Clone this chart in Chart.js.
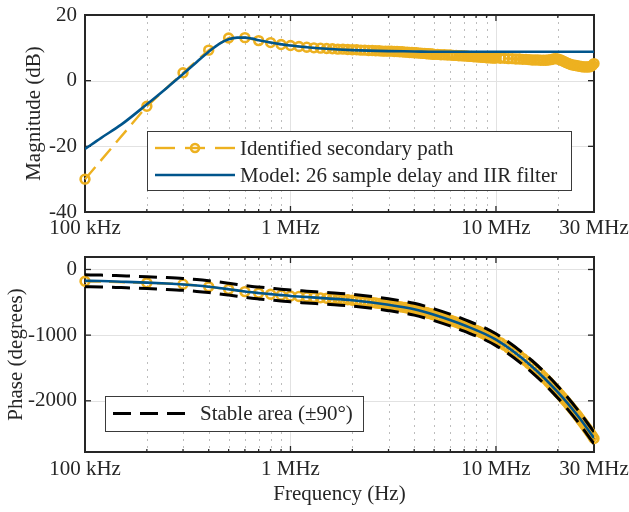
<!DOCTYPE html>
<html>
<head>
<meta charset="utf-8">
<script src="https://cdn.jsdelivr.net/npm/chart.js@4.4.0/dist/chart.umd.min.js"></script>
<style>
  body { margin: 0; background: #fff; }
  #wrap { position: relative; width: 629px; height: 512px; }
  canvas { position: absolute; left: 0; }
</style>
</head>
<body>
<div id="wrap">
  <canvas id="mag" width="629" height="250" style="top:0"></canvas>
  <canvas id="phase" width="629" height="262" style="top:250px"></canvas>
</div>
<script>
// measured (identified) frequency response, frequency in MHz
var freqMeas = [
  0.1, 0.2, 0.3, 0.4, 0.5, 0.6, 0.7, 0.8, 0.9, 1.0,
  1.1, 1.2, 1.3, 1.4, 1.5, 1.6, 1.7, 1.8, 1.9, 2.0,
  2.1, 2.2, 2.3, 2.4, 2.5, 2.6, 2.7, 2.8, 2.9, 3.0,
  3.1, 3.2, 3.3, 3.4, 3.5, 3.6, 3.7, 3.8, 3.9, 4.0,
  4.1, 4.2, 4.3, 4.4, 4.5, 4.6, 4.7, 4.8, 4.9, 5.0,
  5.2, 5.4, 5.6, 5.8, 6.0, 6.2, 6.4, 6.6, 6.8, 7.0,
  7.2, 7.4, 7.6, 7.8, 8.0, 8.2, 8.4, 8.6, 8.8, 9.0,
  9.2, 9.4, 9.6, 9.8, 10,
  10.5, 11, 11.5, 12, 12.5, 13, 13.5, 14, 14.5, 15,
  15.5, 16, 16.5, 17, 17.5, 18, 18.5, 19, 19.5, 20,
  20.5, 21, 21.5, 22, 22.5, 23, 23.5, 24, 24.5, 25,
  25.5, 26, 26.5, 27, 27.5, 28, 28.5, 29, 29.5, 30
];
var magMeas = [
  -30.0, -7.8, 2.4, 9.3, 13.0, 13.1, 12.2, 11.6, 11.0, 10.7,
  10.4, 10.2, 10.0, 9.9, 9.8, 9.7, 9.6, 9.6, 9.5, 9.4,
  9.4, 9.3, 9.3, 9.2, 9.2, 9.1, 9.1, 9.0, 9.0, 9.0,
  9.0, 8.9, 8.9, 8.8, 8.8, 8.7, 8.7, 8.6, 8.6, 8.5,
  8.5, 8.4, 8.4, 8.3, 8.3, 8.2, 8.2, 8.1, 8.1, 8.0,
  8.0, 7.9, 7.9, 7.8, 7.8, 7.7, 7.7, 7.6, 7.6, 7.5,
  7.5, 7.4, 7.4, 7.3, 7.3, 7.2, 7.2, 7.1, 7.1, 7.0,
  7.0, 7.0, 6.9, 6.9, 6.9,
  6.8, 6.8, 6.7, 6.7, 6.6, 6.6, 6.5, 6.5, 6.4, 6.3,
  6.3, 6.3, 6.2, 6.2, 6.2, 6.3, 6.4, 6.6, 6.7, 6.6,
  6.4, 6.1, 5.8, 5.5, 5.2, 5.0, 4.8, 4.7, 4.6, 4.5,
  4.4, 4.3, 4.2, 4.2, 4.2, 4.2, 4.2, 4.4, 4.7, 5.2
];
var phaseMeas = [
  -179, -203, -224, -263, -303, -337, -360, -377, -392, -404,
  -411, -418, -425, -432, -438, -444, -450, -456, -462, -468,
  -475, -482, -489, -496, -503, -510, -517, -524, -531, -538,
  -545, -552, -559, -566, -573, -580, -587, -594, -601, -608,
  -616, -624, -632, -641, -649, -658, -666, -675, -683, -692,
  -708, -724, -740, -756, -772, -788, -804, -820, -836, -852,
  -867, -882, -897, -912, -927, -942, -957, -972, -987, -1002,
  -1017, -1032, -1046, -1060, -1074,
  -1114, -1154, -1194, -1234, -1274, -1314, -1354, -1394, -1434, -1474,
  -1514, -1554, -1594, -1634, -1673, -1712, -1751, -1790, -1829, -1868,
  -1905, -1942, -1979, -2016, -2052, -2088, -2124, -2160, -2195, -2230,
  -2265, -2300, -2335, -2370, -2404, -2438, -2472, -2506, -2540, -2574
];

// model: 26 sample delay and IIR filter
var freqModel = [0.1, 0.12, 0.15, 0.2, 0.25, 0.3, 0.35, 0.4, 0.45, 0.5, 0.55, 0.6, 0.65, 0.7, 0.8, 0.9,
  1, 1.2, 1.5, 2, 3, 4, 5, 7, 10, 15, 20, 25, 30];
var magModel = [-20.8, -17.4, -13.4, -7.2, -2.2, 2.0, 5.7, 8.8, 11.2, 12.6, 13.1, 13.1, 12.8, 12.3, 11.6, 11.1,
  10.7, 10.2, 9.7, 9.3, 9.0, 8.9, 8.8, 8.8, 8.8, 8.8, 8.8, 8.8, 8.8];
var phaseModel = [-172, -176, -186, -200, -214, -228, -244, -262, -281, -300, -318, -335, -348, -358, -375, -390,
  -403, -420, -440, -468, -537, -605, -690, -850, -1070, -1480, -1868, -2228, -2565];
var stableMargin = 90; // degrees either side of the model

var xTicks = [0.1, 1, 10, 30];
var xTickLabels = ['100 kHz', '1 MHz', '10 MHz', '30 MHz'];
var xMinor = [0.2, 0.3, 0.4, 0.5, 0.6, 0.7, 0.8, 0.9, 2, 3, 4, 5, 6, 7, 8, 9, 20];
var magTicks = [-40, -20, 0, 20];
var phaseTicks = [-2000, -1000, 0];

var ink = '#262626';
var yellow = '#EDB120';
var blue = '#00558C';
var serif = "'Liberation Serif', 'Times New Roman', serif";

Chart.defaults.font.family = serif;
Chart.defaults.font.size = 21;
Chart.defaults.color = ink;

function pts(xs, ys) {
  return xs.map(function (f, i) { return { x: f, y: ys[i] }; });
}

function seg(c, x0, y0, x1, y1) {
  c.beginPath(); c.moveTo(x0, y0); c.lineTo(x1, y1); c.stroke();
}

function framePlugin(yTicks, legend) {
  return {
    id: 'frame',
    beforeDatasetsDraw: function (chart) {
      var c = chart.ctx, a = chart.chartArea, x = chart.scales.x, y = chart.scales.y;
      c.save();
      c.lineWidth = 1;
      c.strokeStyle = '#bdbdbd';
      c.setLineDash([2, 5]);
      xMinor.forEach(function (v) {
        var px = Math.round(x.getPixelForValue(v)) + 0.5;
        seg(c, px, a.top, px, a.bottom);
      });
      c.setLineDash([]);
      c.strokeStyle = '#e2e2e2';
      xTicks.forEach(function (v) {
        var px = Math.round(x.getPixelForValue(v)) + 0.5;
        seg(c, px, a.top, px, a.bottom);
      });
      yTicks.forEach(function (v) {
        var py = Math.round(y.getPixelForValue(v)) + 0.5;
        seg(c, a.left, py, a.right, py);
      });
      // box and inward ticks
      c.strokeStyle = ink;
      c.lineWidth = 1.3;
      yTicks.forEach(function (v) {
        var py = y.getPixelForValue(v);
        seg(c, a.left, py, a.left + 6, py);
        seg(c, a.right, py, a.right - 6, py);
      });
      xTicks.forEach(function (v) {
        var px = x.getPixelForValue(v);
        seg(c, px, a.bottom, px, a.bottom - 6);
        seg(c, px, a.top, px, a.top + 6);
      });
      xMinor.forEach(function (v) {
        var px = x.getPixelForValue(v);
        seg(c, px, a.bottom, px, a.bottom - 3);
        seg(c, px, a.top, px, a.top + 3);
      });
      c.lineWidth = 2;
      c.strokeRect(a.left, a.top, a.right - a.left, a.bottom - a.top);
      c.restore();
    },
    afterDraw: function (chart) {
      var c = chart.ctx, lg = legend;
      c.save();
      c.fillStyle = '#fff';
      c.fillRect(lg.x, lg.y, lg.w, lg.h);
      c.strokeStyle = '#3a3a3a';
      c.lineWidth = 1;
      c.strokeRect(lg.x + 0.5, lg.y + 0.5, lg.w, lg.h);
      lg.items.forEach(function (idx, k) {
        var ds = chart.data.datasets[idx];
        var yy = lg.y + lg.first + k * lg.step;
        var x0 = lg.x + 8, x1 = x0 + 80;
        c.strokeStyle = ds.borderColor;
        c.lineWidth = ds.borderWidth;
        if (ds.pointRadius) {
          seg(c, x0, yy, x0 + 20, yy);
          seg(c, x1 - 20, yy, x1, yy);
          seg(c, x0 + 30, yy, x1 - 30, yy);
          c.lineWidth = ds.pointBorderWidth;
          c.beginPath();
          c.arc((x0 + x1) / 2, yy, 4, 0, Math.PI * 2);
          c.stroke();
        } else {
          c.setLineDash(ds.borderDash || []);
          seg(c, x0, yy, x1, yy);
          c.setLineDash([]);
        }
        c.fillStyle = ink;
        c.font = '21px ' + serif;
        c.textBaseline = 'middle';
        c.fillText(ds.label, lg.x + lg.textX, yy + 1);
      });
      c.restore();
    }
  };
}

function xScale(height, pad, title) {
  return {
    type: 'logarithmic', min: 0.1, max: 30,
    afterBuildTicks: function (s) { s.ticks = xTicks.map(function (v) { return { value: v }; }); },
    afterFit: function (s) { s.height = height; s.paddingLeft = 0; s.paddingRight = 0; },
    grid: { display: false, drawTicks: false },
    border: { display: false },
    ticks: {
      autoSkip: false, maxRotation: 0, minRotation: 0, padding: pad,
      callback: function (v, i) { return xTickLabels[i]; }
    },
    title: title
  };
}

function yScale(min, max, ticks, text, titlePad) {
  return {
    min: min, max: max,
    afterBuildTicks: function (s) { s.ticks = ticks.map(function (v) { return { value: v }; }); },
    afterFit: function (s) { s.width = 85; s.paddingTop = 0; s.paddingBottom = 0; },
    grid: { display: false, drawTicks: false },
    border: { display: false },
    ticks: { padding: 8, callback: function (v) { return String(v); } },
    title: { display: true, text: text, padding: { top: titlePad, bottom: 0 } }
  };
}

var measStyle = {
  borderColor: yellow, borderWidth: 2.4, borderDash: [16, 8],
  pointRadius: 4.4, pointBorderWidth: 2.6, pointBorderColor: yellow,
  pointBackgroundColor: 'rgba(0,0,0,0)', pointHoverRadius: 4.4, clip: false, order: 2
};

new Chart(document.getElementById('mag'), {
  type: 'line',
  data: {
    datasets: [
      Object.assign({ label: 'Identified secondary path', data: pts(freqMeas, magMeas) }, measStyle),
      {
        label: 'Model: 26 sample delay and IIR filter', data: pts(freqModel, magModel),
        borderColor: blue, borderWidth: 2.6, pointRadius: 0, cubicInterpolationMode: 'monotone', order: 1
      }
    ]
  },
  options: {
    responsive: false, animation: false, devicePixelRatio: 1,
    layout: { padding: { top: 15, right: 35, left: 0, bottom: 0 } },
    plugins: { legend: { display: false }, tooltip: { enabled: false } },
    scales: {
      x: xScale(38, 4, { display: false }),
      y: yScale(-40, 20, magTicks, 'Magnitude (dB)', 22)
    }
  },
  plugins: [framePlugin(magTicks, { x: 147, y: 131, w: 424, h: 59, first: 17, step: 27, textX: 93, items: [0, 1] })]
});

new Chart(document.getElementById('phase'), {
  type: 'line',
  data: {
    datasets: [
      {
        label: 'Stable area (\u00b190\u00b0)', data: pts(freqModel, phaseModel.map(function (v) { return v + stableMargin; })),
        borderColor: '#000', borderWidth: 3, borderDash: [18, 9], pointRadius: 0, cubicInterpolationMode: 'monotone', order: 0
      },
      {
        label: 'Stable area (\u00b190\u00b0)', data: pts(freqModel, phaseModel.map(function (v) { return v - stableMargin; })),
        borderColor: '#000', borderWidth: 3, borderDash: [18, 9], pointRadius: 0, cubicInterpolationMode: 'monotone', order: 0
      },
      {
        label: 'Model: 26 sample delay and IIR filter', data: pts(freqModel, phaseModel),
        borderColor: blue, borderWidth: 2.6, pointRadius: 0, cubicInterpolationMode: 'monotone', order: 1
      },
      Object.assign({ label: 'Identified secondary path', data: pts(freqMeas, phaseMeas) }, measStyle)
    ]
  },
  options: {
    responsive: false, animation: false, devicePixelRatio: 1,
    layout: { padding: { top: 3, right: 35, left: 0, bottom: 0 } },
    plugins: { legend: { display: false }, tooltip: { enabled: false } },
    scales: {
      x: xScale(60, 5, { display: true, text: 'Frequency (Hz)', padding: { top: 0, bottom: 5 } }),
      y: yScale(-2780, 190, phaseTicks, 'Phase (degrees)', 4)
    }
  },
  plugins: [framePlugin(phaseTicks, { x: 105, y: 146, w: 258, h: 35, first: 17.5, step: 0, textX: 95, items: [0] })]
});
</script>
</body>
</html>
